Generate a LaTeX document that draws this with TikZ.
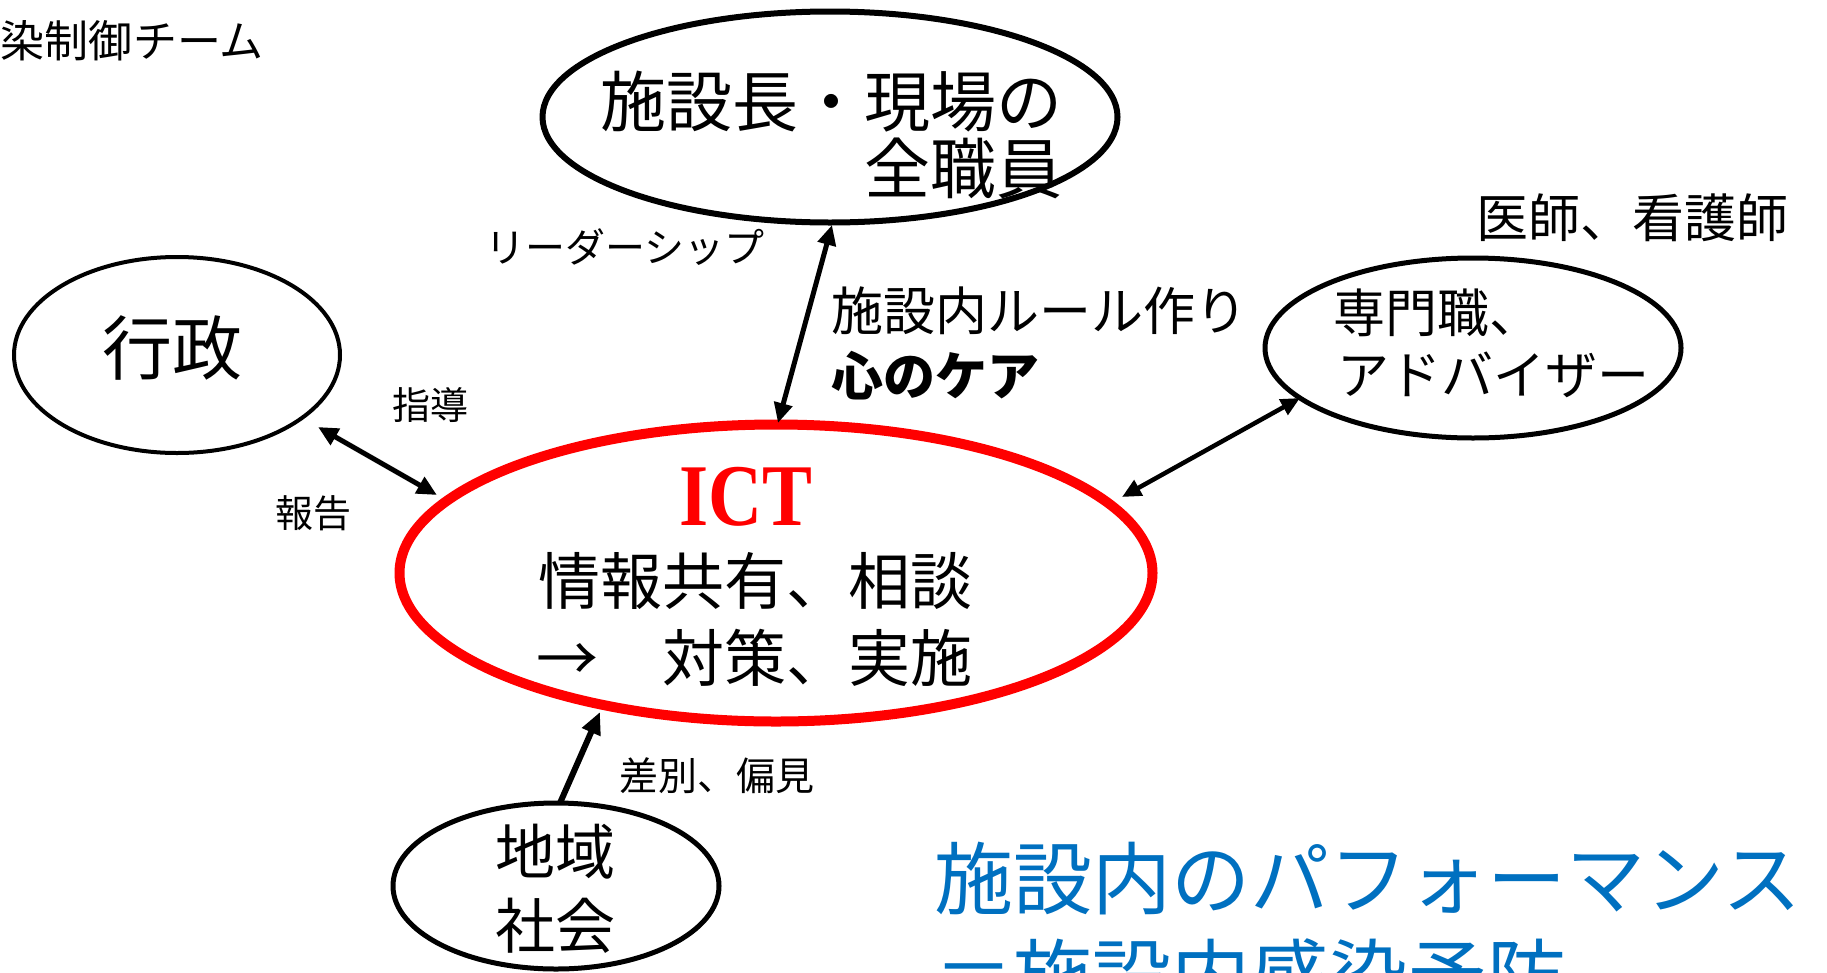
\documentclass[tikz,border=0pt]{standalone}
\usepackage{fontspec}
\setmainfont{Noto Sans CJK JP}
\newfontfamily\ictfont{Liberation Serif}
\usetikzlibrary{shapes.geometric,arrows.meta}
\newcommand{\fsz}[1]{\fontsize{#1}{#1}\selectfont}
\definecolor{ictred}{RGB}{255,0,0}
\definecolor{perfblue}{RGB}{0,112,192}
\begin{document}
\begin{tikzpicture}[x=1pt,y=1pt,
  oval/.style={ellipse,draw,inner sep=0pt,outer sep=0pt},
  lbl/.style={anchor=base west,inner sep=0pt,outer sep=0pt},
  lble/.style={anchor=base east,inner sep=0pt,outer sep=0pt},
  dblarrow/.style={{Triangle[length=20pt,width=18pt]}-{Triangle[length=20pt,width=18pt]},line width=5pt},
]
\useasboundingbox (0,0) rectangle (1827,-972);
\fill[white] (0,0) rectangle (1827,-972);
\clip (0,0) rectangle (1827,-972);

% ellipses
\node[oval,line width=6pt,minimum width=575pt,minimum height=211pt] (staff) at (830,-117) {};
\node[oval,line width=4pt,minimum width=326pt,minimum height=196pt] (gov) at (177,-355) {};
\node[oval,draw=ictred,line width=10pt,minimum width=753pt,minimum height=297pt] (ict) at (776,-573) {};
\node[oval,line width=5pt,minimum width=416pt,minimum height=180pt] (expert) at (1473,-348) {};
\node[oval,line width=5pt,minimum width=326pt,minimum height=166pt] (community) at (556,-886) {};

% connector end points
\coordinate (staffS) at (832,-225);
\coordinate (ictN) at (778,-423);
\coordinate (govSE) at (318,-427);
\coordinate (ictNW) at (437,-495);
\coordinate (expertSW) at (1300,-398);
\coordinate (ictNE) at (1122,-497);
\coordinate (commN) at (560,-803);
\coordinate (ictS) at (600,-712);

% connectors
\draw[dblarrow] (ictN) -- (staffS);
\draw[dblarrow] (govSE) -- (ictNW);
\draw[{Triangle[length=19pt,width=17pt]}-{Triangle[length=19pt,width=17pt]},line width=4.5pt] (ictNE) -- (expertSW);
\draw[-{Triangle[length=22pt,width=19pt]},line width=6pt] (commN) -- (ictS);

% texts
\node[lbl,font=\fsz{44}] (team) at (1,-57) {染制御チーム};
\node[lble,font=\fsz{66}] (staffA) at (1062,-126) {施設長・現場の};
\node[lble,font=\fsz{66}] (staffB) at (1062,-193) {全職員};
\node[lbl,font=\fsz{40}] (leader) at (485,-262) {リーダーシップ};
\node[lbl,font=\fsz{52}] (rules) at (831,-330) {施設内ルール作り};
\node[lbl,font=\bfseries\fsz{52}] (care) at (831,-395) {心のケア};
\node[lbl,font=\fsz{70}] (govlbl) at (102,-374) {行政};
\node[lbl,font=\fsz{38}] (guide) at (392,-419) {指導};
\node[lbl,font=\fsz{38}] (report) at (275,-527) {報告};
\node[lbl,font=\fsz{52}] (doctors) at (1476,-237) {医師、看護師};
\node[lbl,font=\fsz{52}] (expA) at (1333,-332) {専門職、};
\node[lbl,font=\fsz{52}] (expB) at (1337,-394) {アドバイザー};
\node[anchor=base,inner sep=0pt,text=ictred,font=\ictfont\bfseries\fsz{88}] (ictlbl) at (746,-525) {\scalebox{0.85}[1]{ICT}};
\node[lble,font=\fsz{62}] (ictA) at (972,-604) {情報共有、相談};
\node[lbl,font=\fsz{62}] (ictArrow) at (536,-681) {→};
\node[lble,font=\fsz{62}] (ictB) at (972,-681) {対策、実施};
\node[lbl,font=\fsz{39}] (prejudice) at (619,-790) {差別、偏見};
\node[lbl,font=\fsz{60}] (commA) at (495,-874) {地域};
\node[lbl,font=\fsz{60}] (commB) at (495,-948) {社会};
\node[lbl,font=\fsz{79},text=perfblue] (perfA) at (934,-908) {施設内のパフォーマンス};
\node[lbl,font=\fsz{79},text=perfblue] (perfB) at (934,-1005) {＝施設内感染予防};
\end{tikzpicture}
\end{document}
